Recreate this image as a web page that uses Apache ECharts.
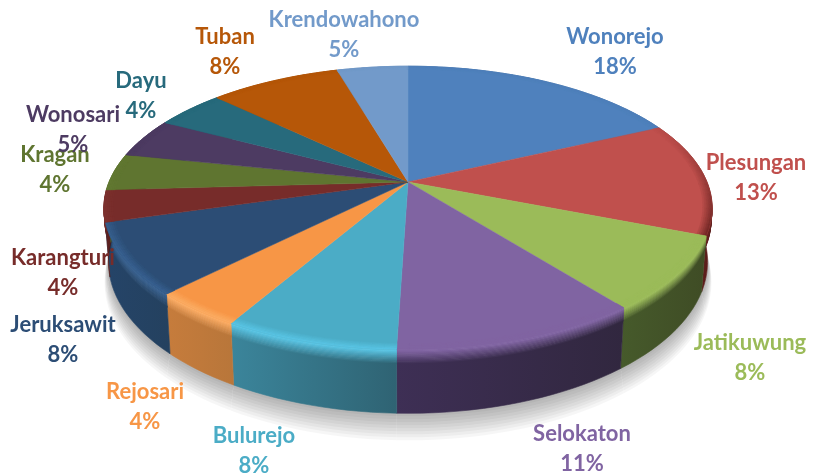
<!DOCTYPE html>
<html>
<head>
<meta charset="utf-8">
<script src="https://cdn.jsdelivr.net/npm/echarts@6/dist/echarts.min.js"></script>
<style>
  html, body { margin: 0; background: #fff; }
  #main { width: 815px; height: 475px; }
</style>
</head>
<body>
<div id="main"></div>
<script>
// data (slice sizes, the labels show them rounded)
const sliceNames = ['Wonorejo', 'Plesungan', 'Jatikuwung', 'Selokaton', 'Bulurejo', 'Rejosari', 'Jeruksawit', 'Karangturi', 'Kragan', 'Wonosari', 'Dayu', 'Tuban', 'Krendowahono']
const sliceValues = [18, 13, 8.4, 11.1, 7.8, 4.1, 8.1, 3.6, 4.2, 4.5, 4.4, 8.3, 4.5]

// colours
const topColors = ['#4f81bd', '#c0504d', '#9bbb59', '#8064a2', '#4bacc6', '#f79646', '#2c4d75', '#772c2a', '#5f7530', '#4d3b62', '#276a7c', '#b65708', '#729aca']
const sideLeft = ['#3d6390', '#6a2422', '#465a2b', '#3e2f55', '#3b859b', '#c67c3c', '#254468', '#5c211f', '#4a5c26', '#3a2c4a', '#1f5564', '#8e4406', '#57789e']
const sideRight = ['#3d6390', '#5a1c1a', '#3f4c25', '#31273f', '#2f6373', '#b8763a', '#24415f', '#5c211f', '#4a5c26', '#3a2c4a', '#1f5564', '#8e4406', '#57789e']
const rimColors = ['#44709f', '#6a2422', '#9bbb59', '#8064a2', '#58c3e2', '#fbab62', '#37608f', '#7f3330', '#647b33', '#443458', '#22606f', '#9e4c07', '#6488b3']

// label centres, the labels were placed by hand in the original
const labelCentres = [[615, 52], [756, 178], [750, 358], [582, 449], [254, 451], [145, 407], [63, 340], [63, 273], [55, 170], [73, 130], [141, 96], [225, 52], [344, 35]]

// projection of the tilted disc
const cx = 408, cy = 182, rx = 299, ry = 137, persp = 0.183, depthBase = 52
const step = Math.PI / 90

const total = sliceValues.reduce((a, b) => a + b, 0)
const startAngles = []
sliceValues.reduce((sum, v, i) => {
  startAngles[i] = sum / total * Math.PI * 2
  return sum + v
}, 0)

function project (t, r, down) {
  const u = Math.sin(t) * r
  const v = Math.cos(t) * r
  const w = 1 + persp * v
  const x = cx + rx * u / w
  const y = cy - ry * v / w
  const f = down || 0
  return [cx + (x - cx) * (1 - 0.015 * f), y + f * depthBase / w]
}

function angleSteps (t0, t1) {
  const list = []
  for (let t = t0; t < t1; t += step) list.push(t)
  list.push(t1)
  return list
}

function sliceRange (i) {
  const t0 = startAngles[i]
  const t1 = i + 1 < startAngles.length ? startAngles[i + 1] : Math.PI * 2
  return [t0, t1]
}

function band (ts, r0, d0, r1, d1) {
  return ts.map(t => project(t, r0, d0)).concat(ts.slice().reverse().map(t => project(t, r1, d1)))
}

function sideFill (colorA, colorB) {
  return new echarts.graphic.LinearGradient(0, 0, 1, 0, [
    { offset: 0, color: colorA },
    { offset: 1, color: colorB }
  ])
}

function renderSide (params) {
  const i = params.dataIndex
  const [t0, t1] = sliceRange(i)
  const ts = angleSteps(t0, t1)
  const base = sideFill(sideLeft[i], sideRight[i])
  const children = []
  // soft shadow on the page, see-through ribbons under the bottom rim
  for (let n = 1; n <= 9; n++) {
    children.push({
      type: 'polygon',
      shape: { points: band(ts, 1, 0.98, 1 + n * 0.002, 1 + n * 0.04) },
      style: { fill: 'rgba(0,0,0,0.035)' }
    })
  }
  children.push({
    type: 'polygon',
    shape: { points: band(ts, 1, 0.2, 1, 1) },
    style: { fill: base, stroke: base, lineWidth: 0.6 }
  })
  // the rounded edge just under the rim, each row overlaps the next one
  const rows = 12
  for (let n = rows - 1; n >= 0; n--) {
    const f = n / (rows - 1)
    const fill = sideFill(echarts.color.lerp(f, [rimColors[i], sideLeft[i]]), echarts.color.lerp(f, [rimColors[i], sideRight[i]]))
    children.push({
      type: 'polygon',
      shape: { points: band(ts, 1, f * 0.2, 1, (f + 1 / (rows - 1)) * 0.2 + 0.005) },
      style: { fill, stroke: fill, lineWidth: 0.6 }
    })
  }
  return { type: 'group', children }
}

function renderTop (params) {
  const i = params.dataIndex
  const [t0, t1] = sliceRange(i)
  const ts = angleSteps(t0, t1)
  const children = [{
    type: 'polygon',
    shape: { points: [[cx, cy]].concat(ts.map(t => project(t, 1, 0))) },
    style: { fill: topColors[i], stroke: topColors[i], lineWidth: 0.5 }
  }]
  // blend towards the rim, stronger on the front of the disc
  const rings = 5
  for (let k = 0; k < ts.length - 1; k++) {
    const front = Math.min(1, Math.max(0.12, (0.45 - Math.cos((ts[k] + ts[k + 1]) / 2)) / 0.9))
    for (let n = 0; n < rings; n++) {
      const r0 = 1 - 0.03 * (rings - n) / rings
      const r1 = 1 - 0.03 * (rings - n - 1) / rings
      const col = echarts.color.lerp(front * (n + 1) / rings, [topColors[i], rimColors[i]])
      children.push({
        type: 'polygon',
        shape: { points: band([ts[k], ts[k + 1]], r0, 0, r1, 0) },
        style: { fill: col, stroke: col, lineWidth: 0.4 }
      })
    }
  }
  return { type: 'group', children }
}

function renderLabel (params) {
  const i = params.dataIndex
  return {
    type: 'text',
    x: labelCentres[i][0],
    y: labelCentres[i][1],
    style: {
      text: sliceNames[i] + '\n' + Math.round(sliceValues[i] / total * 100) + '%',
      fontFamily: 'Lato',
      fontWeight: 'bold',
      fontSize: 22,
      lineHeight: 30,
      fill: topColors[i],
      align: 'center',
      verticalAlign: 'middle'
    }
  }
}

const myChart = echarts.init(document.getElementById('main'), null, { renderer: 'canvas' })
const items = sliceNames.map((name, i) => ({ name, value: [i, sliceValues[i]] }))
const customBase = { type: 'custom', coordinateSystem: 'none', silent: true, animation: false }
myChart.setOption({
  backgroundColor: '#fff',
  animation: false,
  series: [
    Object.assign({}, customBase, { name: 'sides', z: 2, data: items, renderItem: renderSide }),
    Object.assign({}, customBase, { name: 'tops', z: 3, data: items, renderItem: renderTop }),
    Object.assign({}, customBase, { name: 'labels', z: 4, data: items, renderItem: renderLabel })
  ]
})
</script>
</body>
</html>
